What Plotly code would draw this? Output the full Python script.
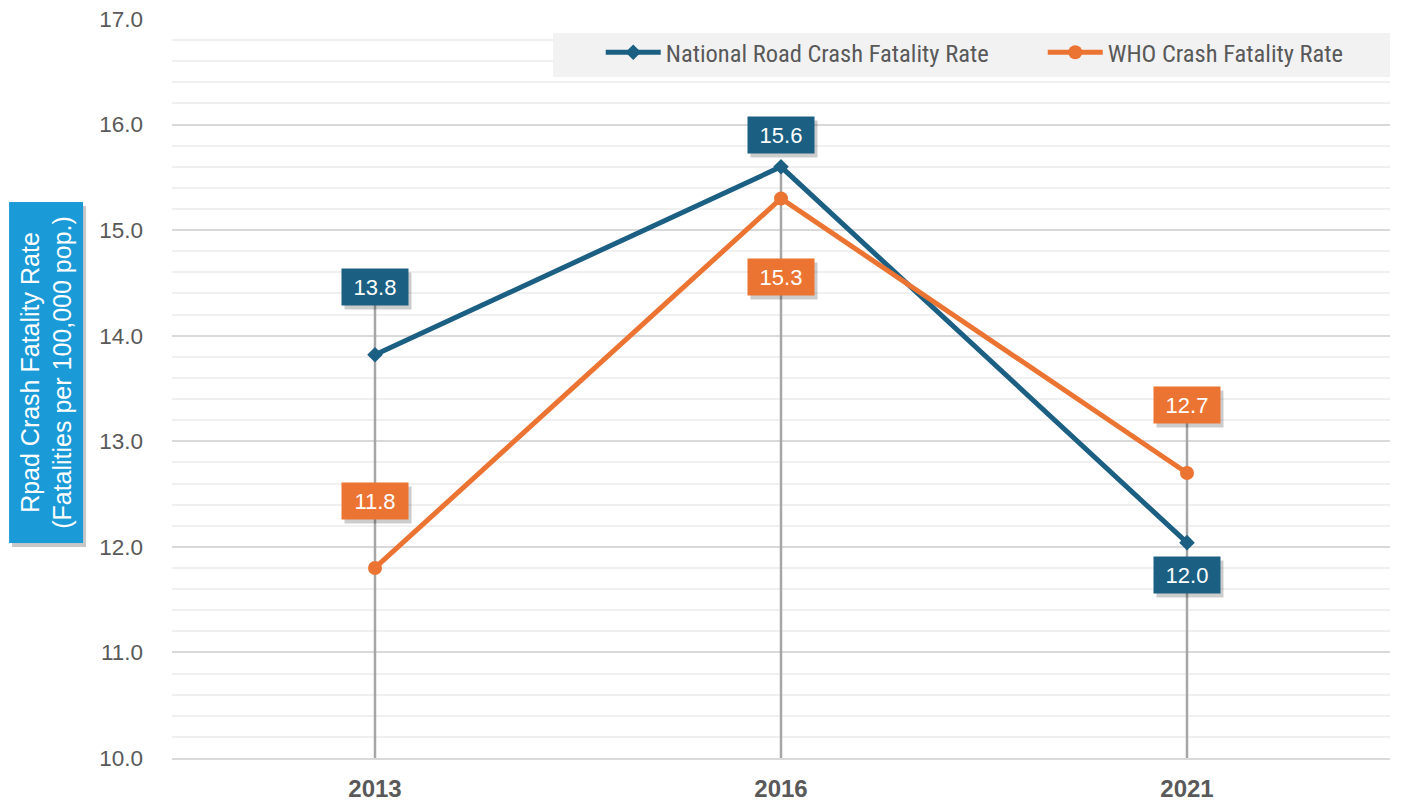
import plotly.graph_objects as go

# ---- data ----
years = ["2013", "2016", "2021"]
national = [13.82, 15.6, 12.04]
who = [11.8, 15.3, 12.7]
national_text = ["13.8", "15.6", "12.0"]
who_text = ["11.8", "15.3", "12.7"]

# label offsets (data units) relative to points
nat_off = [0.64, 0.30, -0.31]
who_off = [0.63, -0.74, 0.64]

BLUE = "#1b5f82"
ORANGE = "#ec7433"
GRAY_TXT = "#595959"

nat_lab_y = [v + o for v, o in zip(national, nat_off)]
who_lab_y = [v + o for v, o in zip(who, who_off)]
drop_top = [nat_lab_y[0], national[1], who_lab_y[2]]

fig = go.Figure()

# drop lines
for i, yr in enumerate(years):
    fig.add_trace(go.Scatter(
        x=[yr, yr], y=[10, drop_top[i]], mode="lines",
        line=dict(color="#a6a6a6", width=2.5), showlegend=False, hoverinfo="skip"))

fig.add_trace(go.Scatter(
    x=years, y=national, mode="lines+markers", name="National Road Crash Fatality Rate",
    line=dict(color=BLUE, width=5), marker=dict(symbol="diamond", size=12, color=BLUE)))
fig.add_trace(go.Scatter(
    x=years, y=who, mode="lines+markers", name="WHO Crash Fatality Rate",
    line=dict(color=ORANGE, width=5), marker=dict(symbol="circle", size=14, color=ORANGE)))

annotations = []

def label(xi, y, text, color):
    common = dict(x=xi, y=y, xref="x", yref="y", showarrow=False, width=62, height=32,
                  borderpad=2, xanchor="center", yanchor="middle")
    annotations.append(dict(common, text="", bgcolor="rgba(0,0,0,0.20)", xshift=3, yshift=-4))
    annotations.append(dict(common, text=text, bgcolor=color,
                            font=dict(family="Liberation Sans, Arial", size=22, color="white")))

for i, yr in enumerate(years):
    label(i, nat_lab_y[i], national_text[i], BLUE)
    label(i, who_lab_y[i], who_text[i], ORANGE)

# y-axis title box
ttl = dict(x=-0.103, y=0.521, xref="paper", yref="paper", showarrow=False, textangle=-90,
           width=334, height=67, borderpad=3, xanchor="center", yanchor="middle")
annotations.append(dict(ttl, text="", bgcolor="rgba(0,0,0,0.22)", xshift=3, yshift=-4))
annotations.append(dict(ttl, text="Rpad Crash Fatality Rate<br>(Fatalities per 100,000 pop.)",
                        bgcolor="#1a9ad7",
                        font=dict(family="Liberation Sans, Arial", size=25, color="white")))

# page body has an 8px margin, so the figure is 8px smaller and margins shifted
fig.update_layout(
    width=1393, height=795,
    margin=dict(l=164, r=11, t=11, b=45, autoexpand=False),
    paper_bgcolor="white", plot_bgcolor="white",
    annotations=annotations,
    showlegend=True,
    legend=dict(orientation="h", x=0.352, xanchor="left", y=0.955, yanchor="middle",
                bgcolor="rgba(0,0,0,0)", entrywidth=372, entrywidthmode="pixels",
                font=dict(family="Liberation Sans Narrow, Roboto Condensed, Liberation Sans", size=24.5, color=GRAY_TXT),
                itemwidth=55),
    shapes=[dict(type="rect", xref="paper", yref="paper", x0=0.3128, x1=1.0,
                 y0=0.9215, y1=0.981, fillcolor="#f2f2f2", line=dict(width=0), layer="above")],
    xaxis=dict(type="category", range=[-0.5, 2.5], showgrid=False, automargin=False,
               showline=True, linecolor="#d9d9d9", linewidth=2, ticks="",
               ticklabeloverflow="allow",
               tickfont=dict(family="Liberation Sans, Arial", size=24, color=GRAY_TXT, weight="bold"),
               ticklabelstandoff=8),
    yaxis=dict(range=[10, 17], dtick=1, tickformat=".1f", showgrid=True, automargin=False,
               gridcolor="#d9d9d9", gridwidth=1.5, zeroline=False, showline=False,
               ticklabeloverflow="allow",
               tickfont=dict(family="Liberation Sans, Arial", size=22.5, color=GRAY_TXT),
               ticklabelstandoff=28,
               minor=dict(dtick=0.2, showgrid=True, gridcolor="#f0f0f0", gridwidth=1.5)),
)

fig.write_html("out.html")
